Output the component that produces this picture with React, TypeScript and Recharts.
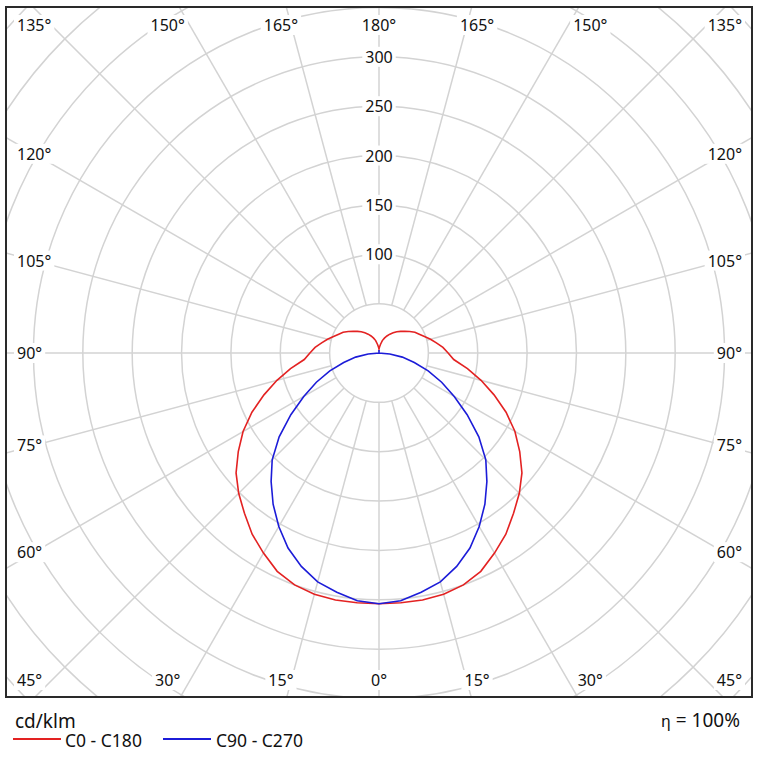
import React from "react"
import { RadarChart, Radar, PolarGrid, PolarAngleAxis, PolarRadiusAxis } from "recharts"

// gamma angles (deg) of the readings, 5° steps
const gammas = [0, 5, 10, 15, 20, 25, 30, 35, 40, 45, 50, 55, 60, 65, 70, 75, 80, 85, 90,
  95, 100, 105, 110, 115, 120, 125, 130, 135, 140, 145, 150, 155, 160, 165, 170, 175, 180]

// cd/klm
const c0c180 = [254, 254, 254, 253, 250, 244, 234, 224, 212, 201, 189, 174, 159, 142, 124, 107, 91, 76, 70,
  65, 59, 54, 49, 45, 42, 38, 34, 31, 28, 25, 22, 19, 16, 13, 9, 6, 4]
const c90c270 = [254, 252, 246, 240, 230, 218, 203, 187, 170, 153, 132, 109, 88, 70, 53, 37, 24, 11, 0,
  0, 0, 0, 0, 0, 0, 0, 0, 0, 0, 0, 0, 0, 0, 0, 0, 0, 3]

const spokeStep = 15
const radiusTicks = [50, 100, 150, 200, 250, 300, 350, 400, 450, 500, 550]
const radiusLabels = [100, 150, 200, 250, 300]

const W = 744
const H = 688
const CX = 372
const CY = 345
const R_MAX = 550
const R_OUT = 543
const R_IN = (R_OUT * 50) / R_MAX
const START = 270 // gamma 0 at the bottom, going clockwise
const END = -90

const FONT = "'Noto Sans', sans-serif"
const GRID = "#d3d3d3"
const RED = "#e32222"
const BLUE = "#1c1cd8"

// full circle: one half is C0 / C90, the other mirrors C180 / C270
const n = (gammas.length - 1) * 2
const step = 360 / n
const gammaOf = (i: number) => gammas[i <= gammas.length - 1 ? i : n - i]
const rows = Array.from({ length: n }, (_, i) => {
  const g = i <= gammas.length - 1 ? i : n - i
  return { k: i, c0: c0c180[g], c90: c90c270[g] }
})
const spokeAngles = Array.from({ length: 360 / spokeStep }, (_, i) => START - i * spokeStep)
const every = spokeStep / step

const textW = (s: string) => s.replace("°", "").length * 9.15 + (s.includes("°") ? 6.9 : 0)

function AngleTick(props: any) {
  const { payload } = props
  const k = Number(payload.value)
  if (k % every !== 0) return <g />
  const label = `${gammaOf(k)}°`
  const a = (payload.coordinate * Math.PI) / 180
  const dx = Math.cos(a)
  const dy = -Math.sin(a)
  const tx = Math.abs(dx) > 1e-6 ? 345 / Math.abs(dx) : Infinity
  const ty = Math.abs(dy) > 1e-6 ? 366 / Math.abs(dy) : Infinity
  const t = Math.min(tx, ty)
  const y = Math.max(17, Math.min(672, CY + t * dy))
  const w = textW(label)
  let x = CX + t * dx
  let anchor: "start" | "middle" | "end" = "middle"
  let left = x - w / 2
  if (tx <= ty) {
    if (dx > 0) { anchor = "end"; x = W - 9; left = x - w }
    else { anchor = "start"; x = 10; left = x }
  }
  return (
    <g>
      <rect x={left - 3} y={y - 10} width={w + 6} height={20} fill="#fff" />
      <text x={x} y={y} textAnchor={anchor} dominantBaseline="central"
        fontFamily={FONT} fontSize={16} fill="#111">{label}</text>
    </g>
  )
}

function RadiusTick(props: any) {
  const { x, y, payload } = props
  if (!radiusLabels.includes(payload.value)) return <g />
  const label = String(payload.value)
  const w = textW(label)
  return (
    <g>
      <rect x={x - w / 2 - 3} y={y - 10} width={w + 6} height={20} fill="#fff" />
      <text x={x} y={y} textAnchor="middle" dominantBaseline="central"
        fontFamily={FONT} fontSize={16} fill="#111">{label}</text>
    </g>
  )
}

export default function App() {
  const margin = { top: 0, right: 0, bottom: 0, left: 0 }
  return (
    <div style={{ position: "absolute", left: 0, top: 0, width: 760, height: 771, background: "#fff", fontFamily: FONT }}>
      <div style={{
        position: "absolute", left: 5, top: 6, width: 748, height: 692, boxSizing: "border-box",
        border: "2px solid #2a2a2a", overflow: "hidden",
      }}>
        {/* grid layer: spokes start at the 50 cd/klm ring */}
        <div style={{ position: "absolute", left: 0, top: 0 }}>
          <RadarChart width={W} height={H} cx={CX} cy={CY} innerRadius={R_IN} outerRadius={R_OUT}
            startAngle={START} endAngle={END} data={rows} margin={margin}>
            <PolarGrid gridType="circle" polarAngles={spokeAngles} stroke={GRID} strokeWidth={1.5} />
            <PolarAngleAxis dataKey="k" tick={(p: any) => <AngleTick {...p} />} axisLine={false} tickLine={false} />
            <PolarRadiusAxis type="number" angle={90} domain={[50, R_MAX]} allowDataOverflow ticks={radiusTicks} tickCount={11}
              scale="linear" tick={(p: any) => <RadiusTick {...p} />} axisLine={false} tickLine={false} />
            <Radar dataKey="c0" stroke="none" fill="none" fillOpacity={0} dot={false} isAnimationActive={false} legendType="none" />
          </RadarChart>
        </div>
        {/* curves */}
        <div style={{ position: "absolute", left: 0, top: 0 }}>
          <RadarChart width={W} height={H} cx={CX} cy={CY} innerRadius={0} outerRadius={R_OUT}
            startAngle={START} endAngle={END} data={rows} margin={margin}>
            <PolarAngleAxis dataKey="k" tick={false} axisLine={false} tickLine={false} />
            <PolarRadiusAxis type="number" domain={[0, R_MAX]} allowDataOverflow tickCount={12} scale="linear"
              tick={false} axisLine={false} tickLine={false} />
            <Radar dataKey="c0" stroke={RED} strokeWidth={1.6} fill="none" fillOpacity={0} dot={false} isAnimationActive={false} />
            <Radar dataKey="c90" stroke={BLUE} strokeWidth={1.6} fill="none" fillOpacity={0} dot={false} isAnimationActive={false} />
          </RadarChart>
        </div>
      </div>
      <svg width={760} height={73} style={{ position: "absolute", left: 0, top: 698 }}>
        <text x={15} y={30} fontFamily={FONT} fontSize={19} fill="#111">cd/klm</text>
        <text x={740} y={29} textAnchor="end" fontFamily={FONT} fontSize={19} fill="#111">
          <tspan fontSize={16}>η</tspan> = 100%
        </text>
        <line x1={13} x2={61} y1={41} y2={41} stroke={RED} strokeWidth={2} />
        <text x={65} y={49} fontFamily={FONT} fontSize={17.5} fill="#111">C0 - C180</text>
        <line x1={163} x2={211} y1={41} y2={41} stroke={BLUE} strokeWidth={2} />
        <text x={216} y={49} fontFamily={FONT} fontSize={17.5} fill="#111">C90 - C270</text>
      </svg>
    </div>
  )
}
